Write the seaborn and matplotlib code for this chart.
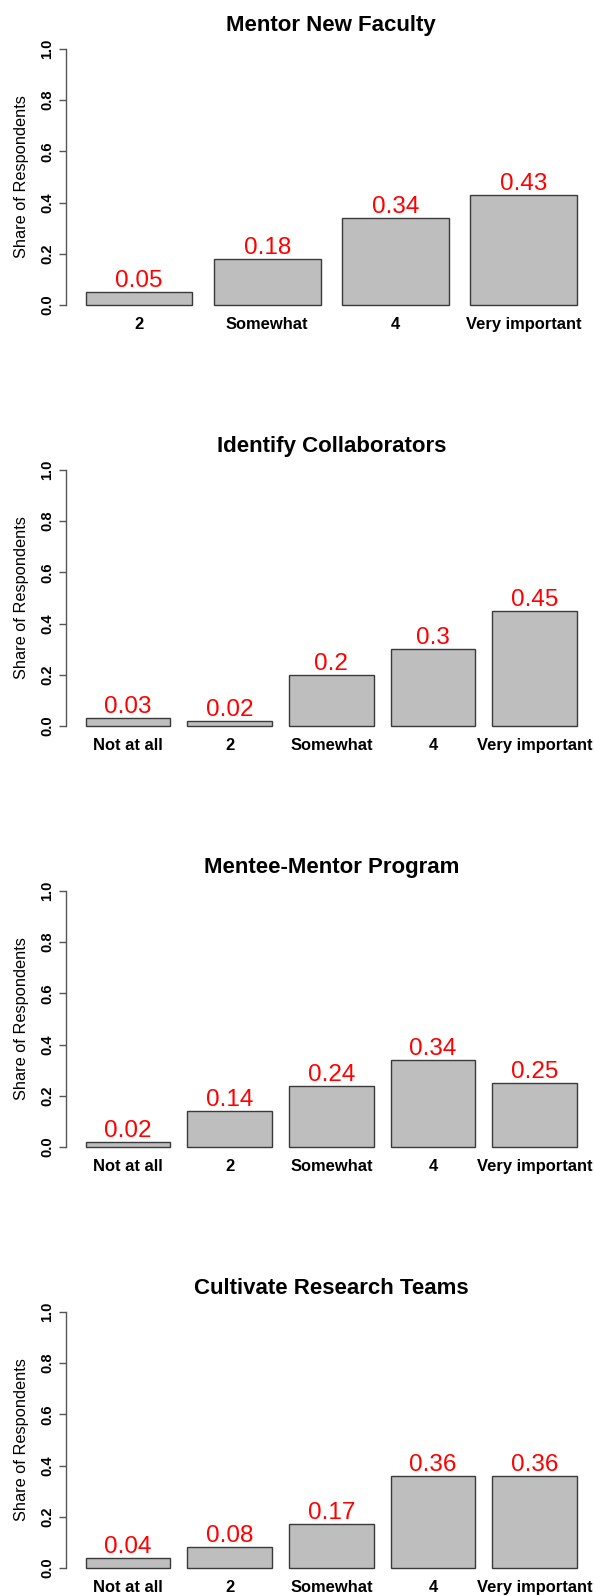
import matplotlib
matplotlib.use("Agg")
import matplotlib.pyplot as plt
import seaborn as sns

# Survey results: share of respondents per importance rating
titles = ["Mentor New Faculty", "Identify Collaborators",
          "Mentee-Mentor Program", "Cultivate Research Teams"]

cats_mentor = ["2", "Somewhat", "4", "Very important"]
vals_mentor = [0.05, 0.18, 0.34, 0.43]

cats_collab = ["Not at all", "2", "Somewhat", "4", "Very important"]
vals_collab = [0.03, 0.02, 0.2, 0.3, 0.45]

cats_program = ["Not at all", "2", "Somewhat", "4", "Very important"]
vals_program = [0.02, 0.14, 0.24, 0.34, 0.25]

cats_teams = ["Not at all", "2", "Somewhat", "4", "Very important"]
vals_teams = [0.04, 0.08, 0.17, 0.36, 0.36]

y_ticks = [0.0, 0.2, 0.4, 0.6, 0.8, 1.0]

panels = [(cats_mentor, vals_mentor), (cats_collab, vals_collab),
          (cats_program, vals_program), (cats_teams, vals_teams)]

sns.set_style("ticks")
plt.rcParams["font.family"] = ["Liberation Sans", "DejaVu Sans"]
plt.rcParams["text.color"] = "black"
plt.rcParams["axes.labelcolor"] = "black"
plt.rcParams["xtick.labelcolor"] = "black"
plt.rcParams["ytick.labelcolor"] = "black"

W, H = 594, 1596
fig = plt.figure(figsize=(W / 100, H / 100), dpi=100)

# plot region runs a little past the right edge, like the cropped original
left_px, right_px = 66, 596.6
for k, (title, (cats, vals)) in enumerate(zip(titles, panels)):
    top_px = 38.8 + 421 * k
    bot_px = 315.2 + 421 * k
    ax = fig.add_axes([left_px / W, 1 - bot_px / H,
                       (right_px - left_px) / W, (bot_px - top_px) / H])

    sns.barplot(x=cats, y=vals, color="#BEBEBE", saturation=1,
                edgecolor="#3a3a3a", linewidth=1, width=1 / 1.2, ax=ax)

    # R-style barplot limits (space 0.2, 4% padding)
    n = len(cats)
    pad = 0.04 * (1.2 * n - 0.2)
    ax.set_xlim((0.2 - pad - 0.7) / 1.2, (1.2 * n + pad - 0.7) / 1.2)
    ax.set_ylim(-0.04, 1.04)

    for i, v in enumerate(vals):
        ax.annotate(f"{v:g}", (i, v), xytext=(0, 3.6), textcoords="offset points",
                    ha="center", va="baseline", color="red", fontsize=17.5)

    ax.set_title(title, fontsize=16, fontweight="bold", pad=5.8, color="black")
    ax.set_xlabel("")
    ax.set_ylabel("Share of Respondents", fontsize=11.8)
    ax.yaxis.set_label_coords(-0.069, 0.5)

    ax.set_yticks(y_ticks)
    ax.set_yticklabels([f"{t:.1f}" for t in y_ticks], rotation=90,
                       va="center", fontweight="bold", fontsize=10.5)
    for lab in ax.get_xticklabels():
        lab.set_fontweight("bold")
        lab.set_fontsize(11.9)
    ax.tick_params(axis="x", length=0, pad=1.5)
    ax.tick_params(axis="y", length=5, width=1, color="#555555", pad=3.3)

    for s in ["top", "right", "bottom"]:
        ax.spines[s].set_visible(False)
    ax.spines["left"].set_bounds(0, 1)
    ax.spines["left"].set_color("#555555")
    ax.spines["left"].set_linewidth(1)

fig.savefig("out.png", dpi=100)
